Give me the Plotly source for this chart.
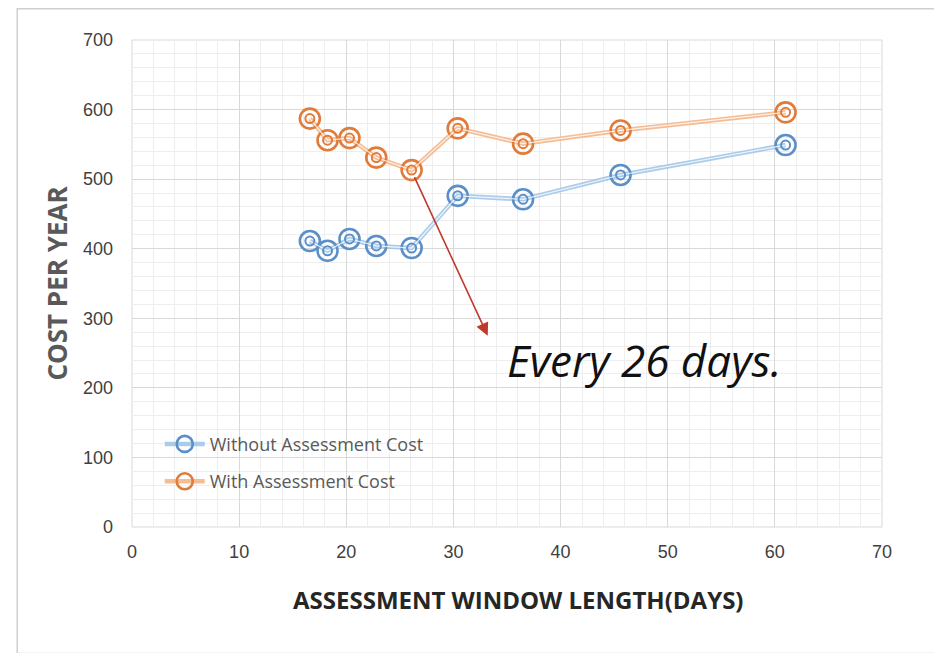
import plotly.graph_objects as go

window_days = [16.6, 18.25, 20.3, 22.8, 26.1, 30.4, 36.5, 45.6, 61.0]
without_cost = [411, 397, 414, 404, 401, 476, 471, 506, 549]
with_cost = [587, 556, 559, 531, 513, 573, 551, 570, 596]

series = [
    ("Without Assessment Cost", without_cost, "#5b8fc7", "rgba(157,195,230,0.85)", "g1"),
    ("With Assessment Cost", with_cost, "#e07b39", "rgba(244,177,131,0.85)", "g2"),
]

fig = go.Figure()
for name, vals, dark, light, grp in series:
    fig.add_trace(go.Scatter(
        x=window_days, y=vals, name=name, mode="lines+markers", legendgroup=grp,
        line=dict(color=light, width=4.5),
        marker=dict(symbol="circle-open", size=20, color=dark, line=dict(width=2.6, color=dark)),
        showlegend=True,
    ))
    fig.add_trace(go.Scatter(
        x=window_days, y=vals, mode="lines+markers", showlegend=False, hoverinfo="skip",
        legendgroup=grp,
        line=dict(color="rgba(255,255,255,0.8)", width=1.2),
        marker=dict(symbol="circle-open", size=9, color=dark, line=dict(width=2, color=dark)),
    ))

tick_font = dict(family="Liberation Sans Narrow, Liberation Sans, Arial", size=18, color="#404040")
fig.update_xaxes(
    range=[0, 70], dtick=10, tickfont=tick_font, showline=False, zeroline=False,
    gridcolor="#d9d9d9", gridwidth=1.2,
    minor=dict(dtick=2, showgrid=True, gridcolor="#eeeeee", gridwidth=1),
    ticks="", ticklabelstandoff=12,
)
fig.update_yaxes(
    range=[0, 700], dtick=100, tickfont=tick_font, showline=False, zeroline=False,
    gridcolor="#d9d9d9", gridwidth=1.2,
    minor=dict(dtick=20, showgrid=True, gridcolor="#eeeeee", gridwidth=1),
    title=dict(text="<b>COST PER YEAR</b>",
               font=dict(family="Open Sans", size=26, color="#595959"), standoff=7),
    ticks="", ticklabelstandoff=18,
)

fig.add_annotation(
    x=0.515, y=-0.187, xref="paper", yref="paper", showarrow=False,
    text="<b>ASSESSMENT WINDOW LENGTH(DAYS)</b>",
    font=dict(family="Open Sans", size=24, color="#262626"),
)

fig.add_annotation(
    x=33.2, y=275, ax=26.3, ay=505, xref="x", yref="y", axref="x", ayref="y",
    showarrow=True, arrowhead=2, arrowsize=1.6, arrowwidth=1.6, arrowcolor="#c0392b", text="",
)
fig.add_annotation(
    x=47.8, y=240, xref="x", yref="y", showarrow=False,
    text="<i>Every 26 days.</i>",
    font=dict(family="Open Sans", size=44, color="#111111"),
)

fig.add_shape(type="rect", xref="paper", yref="paper",
              x0=-0.153, x1=1.077, y0=-0.26, y1=1.064,
              line=dict(color="#d0d0d0", width=1.5), fillcolor="rgba(0,0,0,0)", layer="below")
fig.add_shape(type="rect", xref="paper", yref="paper", x0=0, x1=1, y0=0, y1=1,
              line=dict(color="#d9d9d9", width=1), layer="below")

fig.update_layout(
    width=942, height=653,
    margin=dict(l=124, r=68, t=32, b=134),
    plot_bgcolor="white", paper_bgcolor="white",
    legend=dict(x=0.037, y=0.208, xanchor="left", yanchor="top", bgcolor="rgba(0,0,0,0)",
                font=dict(family="Open Sans", size=18, color="#595959"),
                tracegroupgap=11, itemwidth=40),
)

fig.write_html("out.html")
